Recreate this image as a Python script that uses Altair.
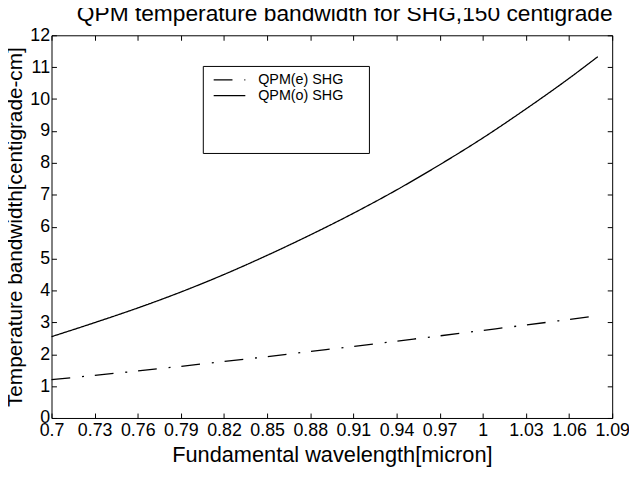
import altair as alt
import pandas as pd

FONT = "Liberation Sans"

wavelength = [0.70, 0.73, 0.76, 0.79, 0.82, 0.85, 0.88, 0.91, 0.94, 0.97, 1.00, 1.03, 1.06, 1.08]
bw_e = [1.20, 1.335, 1.475, 1.62, 1.77, 1.925, 2.085, 2.245, 2.41, 2.575, 2.745, 2.915, 3.09, 3.21]
bw_o = [2.55, 2.99, 3.45, 3.95, 4.50, 5.10, 5.74, 6.42, 7.15, 7.94, 8.78, 9.69, 10.65, 11.33]
series_names = ["QPM(e) SHG", "QPM(o) SHG"]
x_ticks = [0.7, 0.73, 0.76, 0.79, 0.82, 0.85, 0.88, 0.91, 0.94, 0.97, 1.0, 1.03, 1.06, 1.09]
y_ticks = [0, 1, 2, 3, 4, 5, 6, 7, 8, 9, 10, 11, 12]

rows = []
for name, vals in zip(series_names, [bw_e, bw_o]):
    for w, v in zip(wavelength, vals):
        rows.append({"wavelength": w, "bw": v, "series": name})
df = pd.DataFrame(rows)

xscale = alt.Scale(domain=[0.7, 1.09], nice=False, zero=False)
yscale = alt.Scale(domain=[0, 12], nice=False, zero=False)

common_axis = dict(grid=False, domain=False, tickSize=5, offset=-5, tickColor="black",
                   tickWidth=1, labelColor="black", labelFont=FONT, labelFontSize=18,
                   titleFont=FONT, titleFontWeight="normal",
                   titleColor="black", labelOverlap=False, labelFlush=False)

lines = alt.Chart(df).mark_line(color="black", strokeWidth=1.3, interpolate="monotone").encode(
    x=alt.X("wavelength:Q", scale=xscale,
            axis=alt.Axis(orient="bottom", values=x_ticks, format=".2~f",
                          title="Fundamental wavelength[micron]", labelPadding=4,
                          titlePadding=5, titleFontSize=22, **common_axis)),
    y=alt.Y("bw:Q", scale=yscale,
            axis=alt.Axis(orient="left", values=y_ticks, format="d",
                          title="Temperature bandwidth[centigrade-cm]", labelPadding=2,
                          titlePadding=4, titleFontSize=21, **common_axis)),
    strokeDash=alt.StrokeDash(
        "series:N",
        scale=alt.Scale(domain=series_names, range=[[19, 12, 2, 11], [1, 0]]),
        legend=alt.Legend(
            title="_" * 20, titleOrient="bottom", titleFontSize=14, titlePadding=30,
            titleOpacity=0, titleLimit=1000, orient="none", legendX=153, legendY=31,
            strokeColor="black", fillColor="white", padding=6, cornerRadius=0,
            symbolType="stroke", symbolSize=1024, symbolStrokeWidth=1.3,
            symbolStrokeColor="black", symbolOffset=4, clipHeight=16, rowPadding=0,
            labelOffset=12, labelFontSize=14.5, labelFont=FONT, labelColor="black",
            labelLimit=300,
        ),
    ),
)

frame_axis = dict(grid=False, domain=False, tickSize=5, offset=-5, tickColor="black",
                  tickWidth=1, labels=False, title=None)

frame = alt.Chart(df).mark_point(opacity=0).encode(
    x=alt.X("wavelength:Q", scale=xscale, axis=alt.Axis(orient="top", values=x_ticks, **frame_axis)),
    y=alt.Y("bw:Q", scale=yscale, axis=alt.Axis(orient="right", values=y_ticks, **frame_axis)),
)

chart = alt.layer(lines, frame).resolve_axis(x="independent", y="independent").properties(
    width=567, height=387,
    padding={"left": 44, "top": 25, "right": 17, "bottom": 50},
    autosize=alt.AutoSizeParams(type="none"),
    title=alt.Title("QPM temperature bandwidth for SHG,150 centigrade", font=FONT,
                    fontSize=23, fontWeight="normal", color="black", offset=8, dx=13, dy=8),
).configure_view(stroke="black", strokeWidth=1)

chart.save("out.html", embed_options={"renderer": "svg", "actions": False})
